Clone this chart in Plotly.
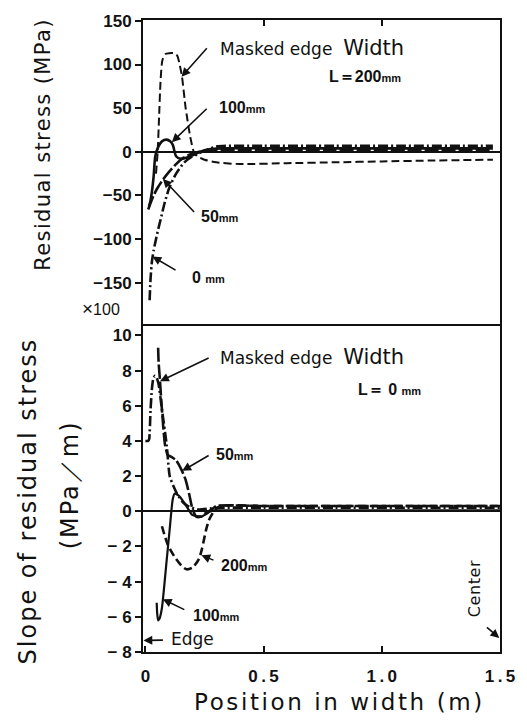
import plotly.graph_objects as go

# ---------------- data ----------------
# Residual stress (MPa) vs position in width (m), masked edge width L
pos_top_200 = [0.045, 0.052, 0.058, 0.064, 0.072, 0.085, 0.1, 0.12, 0.135, 0.145, 0.155,
               0.17, 0.19, 0.205, 0.22, 0.25, 0.3, 0.4, 0.6, 0.8, 1.0, 1.2, 1.47]
stress_200 = [-25, 0, 40, 80, 105, 112, 113, 113, 110, 100, 86,
              51, 17, 0, -5, -9, -12, -14, -13, -12, -11, -10, -9]

pos_top_100 = [0.015, 0.02, 0.028, 0.035, 0.042, 0.055, 0.07, 0.09, 0.105, 0.116, 0.13,
               0.15, 0.17, 0.2, 0.23, 0.27, 0.32, 0.5, 0.8, 1.1, 1.47]
stress_100 = [-62, -58, -45, -28, -5, 6, 12, 14, 12, 8, -5,
              -8, -7, -4, 0, 3, 4, 4, 4, 4, 4]

pos_top_50 = [0.012, 0.02, 0.035, 0.05, 0.074, 0.1, 0.13, 0.16, 0.2, 0.25, 0.3,
              0.5, 0.8, 1.1, 1.47]
stress_50 = [-66, -60, -50, -42, -32, -23, -14, -7, -2, 1, 2, 2, 2, 2, 2]

pos_top_0 = [0.018, 0.022, 0.028, 0.035, 0.045, 0.055, 0.065, 0.08, 0.1, 0.13, 0.165,
             0.2, 0.24, 0.3, 0.5, 0.8, 1.1, 1.47]
stress_0 = [-170, -145, -125, -113, -100, -88, -77, -60, -42, -25, -12,
            -5, 0, 6, 7, 7, 7, 7]

# Slope of residual stress (x100 MPa/m)
pos_bot_0 = [0.0, 0.012, 0.016, 0.022, 0.028, 0.033, 0.04, 0.047, 0.055, 0.07, 0.09,
             0.103, 0.12, 0.136, 0.16, 0.18, 0.22, 0.3, 0.5, 0.8, 1.1, 1.5]
slope_0 = [4.0, 4.0, 4.1, 5.8, 7.0, 7.5, 7.7, 7.6, 7.3, 5.8, 3.8,
           2.0, 1.4, 0.95, 0.5, 0.3, 0.1, 0.2, 0.2, 0.2, 0.2, 0.2]

pos_bot_50 = [0.054, 0.056, 0.062, 0.07, 0.083, 0.095, 0.11, 0.13, 0.155, 0.17, 0.185,
              0.198, 0.215, 0.235, 0.255, 0.28, 0.3, 0.5, 0.8, 1.1, 1.5]
slope_50 = [9.3, 8.5, 7.4, 5.8, 3.8, 3.2, 3.1, 2.9, 2.3, 1.8, 1.0,
            0.2, -0.3, -0.3, -0.1, 0.1, 0.3, 0.3, 0.3, 0.3, 0.3]

pos_bot_100 = [0.048, 0.05, 0.054, 0.06, 0.07, 0.09, 0.103, 0.116, 0.124, 0.14, 0.153,
               0.178, 0.198, 0.236, 0.277, 0.3, 0.5, 0.8, 1.1, 1.5]
slope_100 = [-5.2, -5.8, -6.2, -6.1, -5.5, -2.8, -1.0, 0.7, 1.0, 0.9, 0.7,
             0.2, -0.2, -0.3, 0.0, 0.05, 0.05, 0.05, 0.05, 0.05]

pos_bot_200 = [0.07, 0.095, 0.124, 0.153, 0.174, 0.2, 0.227, 0.24, 0.256, 0.269, 0.29,
               0.318, 0.5, 0.8, 1.1, 1.5]
slope_200 = [-0.85, -1.9, -2.6, -3.1, -3.3, -3.2, -2.7, -2.1, -1.1, -0.5, 0.0,
             0.3, 0.3, 0.3, 0.3, 0.3]

# ticks
x_tickvals = [0, 0.5, 1.0, 1.5]
x_ticktext = ["0", "0\u2009.\u20095", "1\u2009.\u20090", "1\u2009.\u20095"]
top_tickvals = [150, 100, 50, 0, -50, -100, -150]
top_ticktext = ["150", "100", "50", "0", "\u221250", "\u2212100", "\u2212150"]
bot_tickvals = [10, 8, 6, 4, 2, 0, -2, -4, -6, -8]
bot_ticktext = ["10", "8", "6", "4", "2", "0", "\u2212 2", "\u2212 4", "\u2212 6", "\u2212 8"]

# ---------------- layout geometry ----------------
W, H = 527, 722
L_M, R_M, T_M, B_M = 143, 17, 15, 70
PW, PH = W - L_M - R_M, H - T_M - B_M
X_RANGE = [-0.01, 1.5]
Y_TOP = [-199, 151]
Y_BOT = [-8, 10.56]
SPLIT_PX = 323
split = (H - B_M - SPLIT_PX) / PH


def px_x(px):
    return (px - L_M) / PW


def px_y(py):
    return (H - B_M - py) / PH


def dx(px):
    return X_RANGE[0] + (px - L_M) / PW * (X_RANGE[1] - X_RANGE[0])


def dy_top(py):
    return Y_TOP[1] - (py - T_M) / (SPLIT_PX - T_M) * (Y_TOP[1] - Y_TOP[0])


def dy_bot(py):
    return Y_BOT[1] - (py - SPLIT_PX) / (H - B_M - SPLIT_PX) * (Y_BOT[1] - Y_BOT[0])


BLACK = "#111111"
DASH_200 = "8px,4px"
DASH_50 = "14px,3px"
DASH_0 = "10px,3px,2px,3px"

fig = go.Figure()

def add_line(x, y, dash, xa, ya, width=2.0):
    fig.add_trace(go.Scatter(x=x, y=y, mode="lines", xaxis=xa, yaxis=ya,
                             line=dict(color=BLACK, width=width, dash=dash, shape="spline",
                                       smoothing=0.6),
                             showlegend=False, hoverinfo="skip"))

# top panel
add_line(pos_top_200, stress_200, DASH_200, "x", "y")
add_line(pos_top_0, stress_0, DASH_0, "x", "y", 2.6)
add_line(pos_top_50, stress_50, DASH_50, "x", "y", 2.6)
add_line(pos_top_100, stress_100, "solid", "x", "y", 2.6)

# bottom panel
add_line(pos_bot_0, slope_0, DASH_0, "x2", "y2", 2.6)
add_line(pos_bot_200, slope_200, DASH_200, "x2", "y2", 2.6)
add_line(pos_bot_50, slope_50, DASH_50, "x2", "y2", 2.6)
add_line(pos_bot_100, slope_100, "solid", "x2", "y2", 2.2)

tick_font = dict(family="Liberation Sans", size=17, color=BLACK, weight="bold")
line_common = dict(showline=True, linecolor=BLACK, linewidth=2,
                   showgrid=False, tickcolor=BLACK, tickwidth=2)

fig.update_layout(
    width=W, height=H,
    margin=dict(l=L_M, r=R_M, t=T_M, b=B_M),
    paper_bgcolor="white", plot_bgcolor="white",
    xaxis=dict(domain=[0, 1], anchor="y", side="top", range=X_RANGE,
               tickvals=[0.5, 1.0], ticks="inside", ticklen=6, mirror=False,
               showticklabels=False, zeroline=False, **line_common),
    yaxis=dict(domain=[split, 1], anchor="x", range=Y_TOP, mirror=True,
               tickvals=top_tickvals, ticktext=top_ticktext, ticks="outside",
               ticklen=6, tickfont=tick_font, zeroline=True, zerolinecolor=BLACK,
               zerolinewidth=1.5, **line_common),
    yaxis3=dict(overlaying="y", anchor="x", side="right", range=Y_TOP,
                tickvals=[100, 50, -50, -100, -150], ticks="inside", ticklen=6,
                tickcolor=BLACK, tickwidth=2, showticklabels=False,
                showline=False, showgrid=False, zeroline=False),
    xaxis2=dict(domain=[0, 1], anchor="y2", range=X_RANGE, mirror=True,
                tickvals=x_tickvals, ticktext=x_ticktext, ticks="inside", ticklen=6,
                ticklabelstandoff=8,
                tickfont=tick_font, zeroline=False, **line_common),
    yaxis2=dict(domain=[0, split], anchor="x2", range=Y_BOT, mirror=True,
                tickvals=bot_tickvals, ticktext=bot_ticktext, ticks="outside",
                ticklen=6, tickfont=tick_font, zeroline=True, zerolinecolor=BLACK,
                zerolinewidth=1.5, **line_common),
    yaxis4=dict(overlaying="y2", anchor="x2", side="right", range=Y_BOT,
                tickvals=[8, 6, 4, 2, -2, -4, -6], ticks="inside", ticklen=6,
                tickcolor=BLACK, tickwidth=2, showticklabels=False,
                showline=False, showgrid=False, zeroline=False),
)

# arrows: (axis suffix, tail px, tip in data units)
arrows = [
    ("", (210, 42), (0.153, 86)),
    ("", (210, 103), (0.112, 11)),
    ("", (197, 210), (0.074, -31)),
    ("", (178, 268), (0.03, -120)),
    ("2", (212, 355), (0.062, 7.4)),
    ("2", (212, 453), (0.156, 2.3)),
    ("2", (217, 560), (0.237, -2.5)),
    ("2", (187, 610), (0.074, -5.0)),
    ("2", (165, 640), (-0.008, -7.34)),
    ("2", (495, 626), (1.497, -7.2)),
]
for suf, (tx, ty), (hx, hy) in arrows:
    dyf = dy_top if suf == "" else dy_bot
    fig.add_annotation(x=hx, y=hy, xref="x" + suf, yref="y" + suf,
                       ax=dx(tx), ay=dyf(ty), axref="x" + suf, ayref="y" + suf,
                       text="", showarrow=True, arrowhead=2, arrowsize=1.1,
                       arrowwidth=1.6, arrowcolor=BLACK)

label_font = dict(family="Liberation Sans", size=16, color=BLACK, weight="bold")
text_font = dict(family="DejaVu Sans", size=17, color=BLACK)
MM = "<span style='font-size:11px'>mm</span>"

labels = [
    ("Masked edge  <span style='font-size:21px'>Width</span>", 220, 43, text_font),
    ("L\uff1d200" + MM, 332, 72, label_font),
    ("100" + MM, 219, 103, label_font),
    ("50" + MM, 201, 213, label_font),
    ("0 " + MM, 191, 275, label_font),
    ("Masked edge  <span style='font-size:21px'>Width</span>", 220, 355, text_font),
    ("L\uff1d 0 " + MM, 362, 387, label_font),
    ("50" + MM, 216, 453, label_font),
    ("200" + MM, 221, 565, label_font),
    ("100" + MM, 192, 615, label_font),
    ("Edge", 170, 639, dict(family="DejaVu Sans", size=17, color=BLACK)),
]
for txt, lx, ly, fnt in labels:
    fig.add_annotation(x=px_x(lx), y=px_y(ly), xref="paper", yref="paper",
                       text=txt, showarrow=False, xanchor="left", yanchor="middle",
                       font=fnt)


def centered_text(txt, cx, cy, fnt, angle=0):
    fig.add_annotation(x=px_x(cx), y=px_y(cy), xref="paper", yref="paper",
                       text=txt, showarrow=False, textangle=angle,
                       xanchor="center", yanchor="middle", font=fnt)


def spaced(txt, px):
    return "<span style='letter-spacing:%.1fpx'>%s</span>" % (px, txt)


centered_text(spaced("Center", 0.6), 484, 588,
              dict(family="DejaVu Sans", size=16, color=BLACK), -90)
centered_text("<span style='font-size:19px'>\u00d7</span>100", 100, 306,
              dict(family="Liberation Sans", size=16, color=BLACK))

# axis titles
centered_text(spaced("Residual stress (MPa)", 1.4), 40, 140,
              dict(family="DejaVu Sans", size=21, color=BLACK), -90)
centered_text(spaced("Slope of residual stress", 2.0), 25, 500,
              dict(family="DejaVu Sans", size=24, color=BLACK), -90)
centered_text(spaced("(MPa\uff0fm)", 2.0), 68, 484,
              dict(family="DejaVu Sans", size=24, color=BLACK), -90)
centered_text(spaced("Position in width (m)", 2.6), 345, 702,
              dict(family="DejaVu Sans", size=23, color=BLACK))

fig.write_html("out.html")
